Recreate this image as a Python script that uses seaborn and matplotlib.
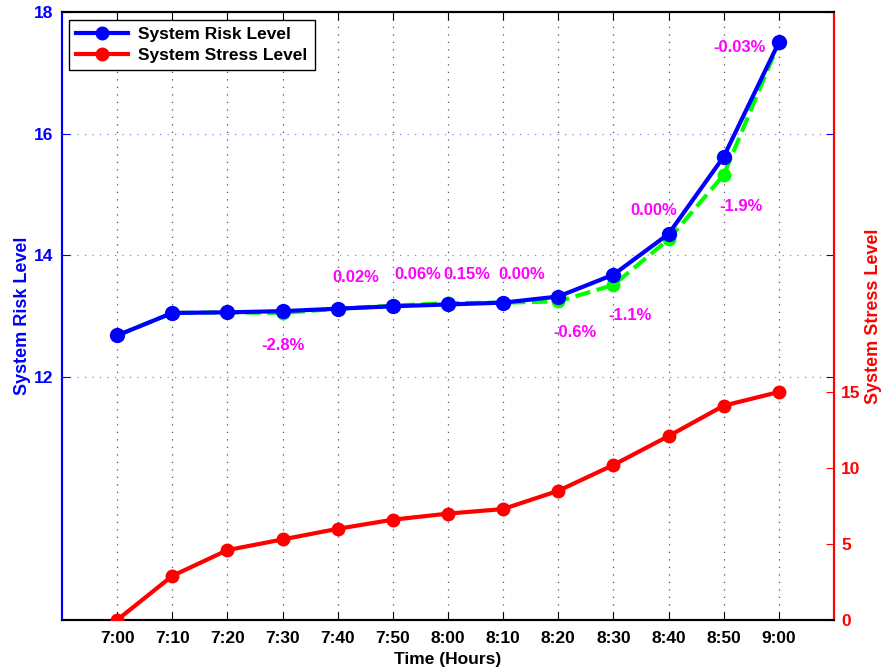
import matplotlib
matplotlib.use("Agg")
import matplotlib.pyplot as plt
import seaborn as sns
import pandas as pd
from matplotlib.lines import Line2D

# Time axis labels (10-minute steps)
times = ["7:00", "7:10", "7:20", "7:30", "7:40", "7:50", "8:00",
         "8:10", "8:20", "8:30", "8:40", "8:50", "9:00"]

# System risk level (left axis)
risk = [12.68, 13.05, 13.06, 13.08, 13.12, 13.16, 13.19,
        13.22, 13.32, 13.68, 14.35, 15.62, 17.50]

# Alternative risk trajectory (dashed green)
risk_alt = [12.68, 13.05, 13.06, 13.05, 13.12, 13.17, 13.21,
            13.22, 13.24, 13.51, 14.26, 15.32, 17.49]

# System stress level (right axis)
stress = [0.0, 2.9, 4.6, 5.3, 6.0, 6.6, 7.0, 7.3, 8.5, 10.2, 12.1, 14.1, 15.0]

# Percentage change annotations: (time index, text)
pct_labels = [(3, "-2.8%"), (4, "0.02%"), (5, "0.06%"), (6, "0.15%"),
              (7, "0.00%"), (8, "-0.6%"), (9, "-1.1%"), (10, "0.00%"),
              (11, "-1.9%"), (12, "-0.03%")]
# label placement relative to the point, in pixels
pct_offsets = [(0, -34), (18, 31), (25, 32), (19, 30), (19, 28), (17, -36),
               (17, -41), (-15, 23), (17, -50), (-39, -5)]

plt.rcParams["font.family"] = ["Liberation Sans", "DejaVu Sans"]
plt.rcParams["font.weight"] = "bold"

df = pd.DataFrame({"t": range(len(times)), "risk": risk,
                   "risk_alt": risk_alt, "stress": stress})

fig = plt.figure(figsize=(8.81, 6.69), dpi=100)
ax = fig.add_axes([62 / 881, 1 - 620 / 669, (834 - 62) / 881, (620 - 12) / 669])
ax2 = ax.twinx()

BLUE = "#0000ff"
RED = "#ff0000"
GREEN = "#00ff00"
MAGENTA = "#ff00ff"

sns.lineplot(data=df, x="t", y="risk_alt", ax=ax, color=GREEN, linestyle="--",
             linewidth=3, marker="o", markersize=9, markeredgecolor=GREEN,
             markeredgewidth=1, zorder=3)
sns.lineplot(data=df, x="t", y="risk", ax=ax, color=BLUE, linewidth=3,
             marker="o", markersize=10, markeredgecolor=BLUE,
             markeredgewidth=1, zorder=4)
sns.lineplot(data=df, x="t", y="stress", ax=ax2, color=RED, linewidth=3,
             marker="o", markersize=9, markeredgecolor=RED,
             markeredgewidth=1, zorder=4)

for (i, txt), (dx, dy) in zip(pct_labels, pct_offsets):
    ax.annotate(txt, xy=(i, risk[i]), xytext=(dx, dy), textcoords="offset pixels",
                ha="center", va="center", color=MAGENTA, fontsize=12,
                fontweight="bold", zorder=6)

ax.set_xlim(-1, len(times))
ax.set_ylim(8, 18)
ax2.set_ylim(0, 40)

ax.set_xticks(range(len(times)))
ax.set_xticklabels(times)
ax.set_yticks([12, 14, 16, 18])
ax2.set_yticks([0, 5, 10, 15])

ax.xaxis.grid(True, linestyle=(0, (1, 5)), color="#555555", linewidth=0.9)
ax.yaxis.grid(True, linestyle=(0, (1, 5)), color="#8080ff", linewidth=0.9)
ax.set_axisbelow(True)

ax.tick_params(axis="x", direction="in", length=6, top=True, colors="black",
               labelsize=12.5, pad=8)
ax.tick_params(axis="y", direction="in", length=6, right=True, labelright=False,
               colors=BLUE, labelcolor=BLUE, labelsize=12.5, pad=6)
ax2.tick_params(axis="y", direction="in", length=6, colors=RED, labelcolor=RED,
                labelsize=12.5, pad=5)
for lab in ax.get_xticklabels() + ax.get_yticklabels() + ax2.get_yticklabels():
    lab.set_fontweight("bold")

for a in (ax, ax2):
    a.spines["left"].set_color(BLUE)
    a.spines["right"].set_color(RED)
    a.spines["top"].set_color("black")
    a.spines["bottom"].set_color("black")
    for s in a.spines.values():
        s.set_linewidth(1.5)

ax.set_xlabel("Time (Hours)", fontsize=12.5, fontweight="bold", labelpad=4)
ax.set_ylabel("System Risk Level", fontsize=13, fontweight="bold", color=BLUE,
              labelpad=2)
ax2.set_ylabel("System Stress Level", fontsize=13, fontweight="bold", color=RED,
               labelpad=3)

handles = [Line2D([], [], color=BLUE, linewidth=3, marker="o", markersize=9),
           Line2D([], [], color=RED, linewidth=3, marker="o", markersize=9)]
leg = ax2.legend(handles, ["System Risk Level", "System Stress Level"],
                 loc="upper left", bbox_to_anchor=(0.009, 0.987),
                 fancybox=False, framealpha=1, edgecolor="black",
                 prop={"weight": "bold", "size": 12.5}, borderpad=0.4,
                 handlelength=3.0, handletextpad=0.6, labelspacing=0.35,
                 borderaxespad=0)
leg.get_frame().set_linewidth(1.0)

fig.savefig("out.png", dpi=100)
